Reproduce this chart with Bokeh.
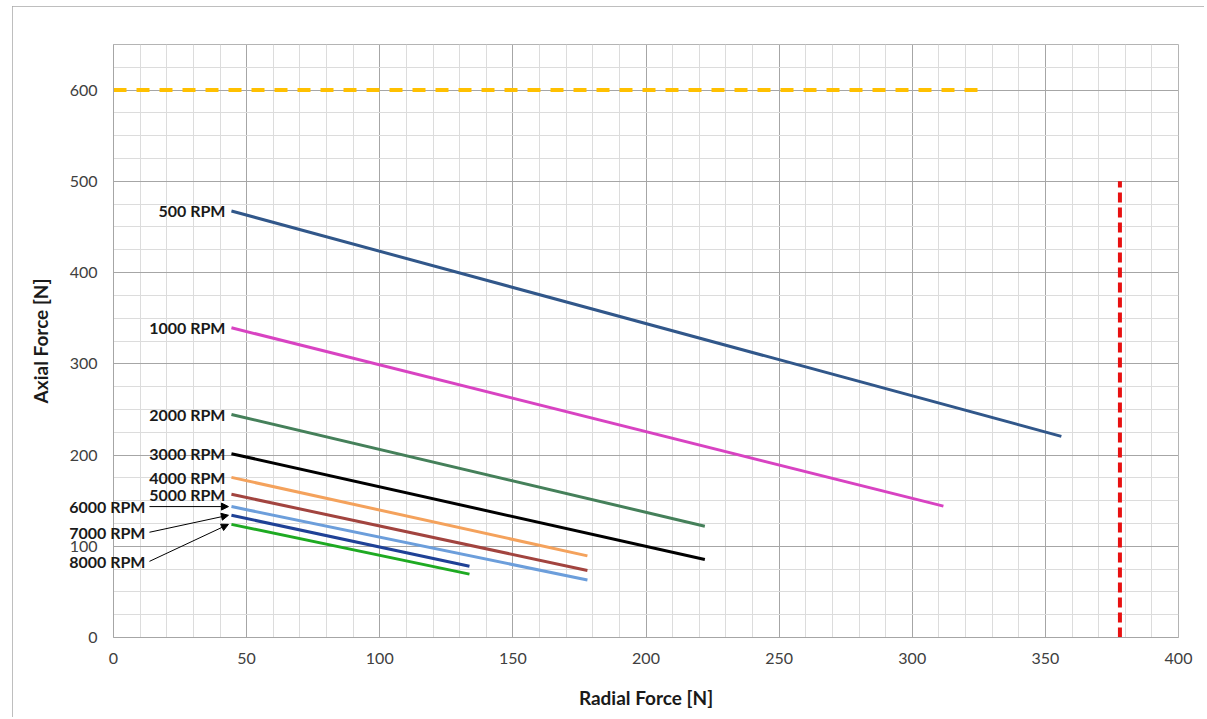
from bokeh.plotting import figure
from bokeh.models import (ColumnDataSource, SingleIntervalTicker, Range1d, Arrow,
                          NormalHead)
from bokeh.core.properties import value
from bokeh.embed import file_html
from bokeh.resources import INLINE

# ---- data ----
rpm_labels = ["500 RPM", "1000 RPM", "2000 RPM", "3000 RPM", "4000 RPM",
              "5000 RPM", "6000 RPM", "7000 RPM", "8000 RPM"]
x_start = [44.3, 44.3, 44.3, 44.3, 44.3, 44.3, 44.3, 44.3, 44.3]
y_start = [467.5, 339.5, 244.5, 201.5, 175.5, 157.0, 143.5, 134.0, 124.0]
x_end = [356.0, 311.7, 222.1, 222.1, 178.0, 178.0, 178.0, 133.7, 133.7]
y_end = [220.5, 144.0, 122.0, 85.5, 89.5, 73.5, 63.0, 78.0, 69.5]
colors = ["#31578A", "#D843C2", "#45805A", "#000000", "#F4A25C",
          "#A2443F", "#6C9EDB", "#1F4196", "#1EAA22"]

limit_axial = 600       # yellow dashed limit
limit_axial_xmax = 327.5
limit_radial = 378      # red dashed limit
limit_radial_ymax = 500

FONT = "Lato"
FW, FH = 1065, 593
X_MAX, Y_MAX = 400, 650

p = figure(width=1192, height=711, frame_width=FW, frame_height=FH,
           x_range=Range1d(0, X_MAX), y_range=Range1d(0, Y_MAX),
           output_backend="svg", toolbar_location=None,
           min_border_left=101, min_border_top=38, min_border_right=26,
           min_border_bottom=80,
           x_axis_label="Radial Force [N]", y_axis_label="Axial Force [N]")
p.styles = {"margin-left": "12px", "margin-top": "6px",
            "outline": "1px solid #a8a8a8", "outline-offset": "-1px"}
p.background_fill_color = "white"
p.border_fill_color = "white"
p.outline_line_color = "#b4b4b4"

p.xaxis.ticker = SingleIntervalTicker(interval=50, num_minor_ticks=5)
p.yaxis.ticker = SingleIntervalTicker(interval=100, num_minor_ticks=4)
p.xgrid.ticker = p.xaxis.ticker
p.ygrid.ticker = p.yaxis.ticker
for g in (p.xgrid, p.ygrid):
    g.grid_line_color = "#a6a6a6"
    g.grid_line_width = 1
    g.minor_grid_line_color = "#dcdcdc"
    g.minor_grid_line_width = 1

for ax in (p.xaxis, p.yaxis):
    ax.axis_line_color = "#a6a6a6"
    ax.major_tick_line_color = None
    ax.minor_tick_line_color = None
    ax.major_tick_out = 0
    ax.major_tick_in = 0
    ax.minor_tick_out = 0
    ax.minor_tick_in = 0
    ax.major_label_text_font = FONT
    ax.major_label_text_font_size = "16px"
    ax.major_label_text_color = "#404040"
    ax.axis_label_text_font = FONT
    ax.axis_label_text_font_size = "19px"
    ax.axis_label_text_font_style = "bold"
    ax.axis_label_text_color = "#1a1a1a"
p.yaxis.major_label_standoff = 16
p.xaxis.major_label_standoff = 15
p.yaxis.axis_label_standoff = 15
p.xaxis.axis_label_standoff = 19

# limits
p.line([0, limit_axial_xmax], [limit_axial, limit_axial], line_color="#FFC000",
       line_width=4, line_dash="13 10")
p.line([limit_radial, limit_radial], [0, limit_radial_ymax], line_color="#E81010",
       line_width=4, line_dash="10 5")

# RPM lines
for xs, ys, xe, ye, c in zip(x_start, y_start, x_end, y_end, colors):
    p.line([xs, xe], [ys, ye], line_color=c, line_width=3)

# labels (drawn at overlay level so they are not clipped to the frame)
ppx = FW / X_MAX
ppy = FH / Y_MAX
direct = 6          # first six labels sit just left of their line
label_gap = 6
arrow_label_dx = 86
arrow_label_dy = [0, 17, 37]
lab_x, lab_y = [], []
for i, (xs, ys) in enumerate(zip(x_start, y_start)):
    if i < direct:
        lab_x.append(xs - label_gap / ppx)
        lab_y.append(ys)
    else:
        lab_x.append(xs - arrow_label_dx / ppx)
        lab_y.append(ys - arrow_label_dy[i - direct] / ppy)

src = ColumnDataSource(dict(x=lab_x, y=lab_y, text=rpm_labels))
p.text(x="x", y="y", text="text", source=src, text_align="right",
       text_baseline="middle", text_font=value(FONT), text_font_size="16px",
       text_font_style="bold", text_color="#1a1a1a", level="overlay")

for i in range(direct, len(rpm_labels)):
    p.add_layout(Arrow(x_start=lab_x[i] + 4 / ppx, y_start=lab_y[i],
                       x_end=x_start[i] - 3 / ppx, y_end=y_start[i],
                       line_color="black", line_width=1,
                       end=NormalHead(size=7, fill_color="black",
                                      line_color="black")))

open("out.html", "w").write(file_html(p, INLINE))
